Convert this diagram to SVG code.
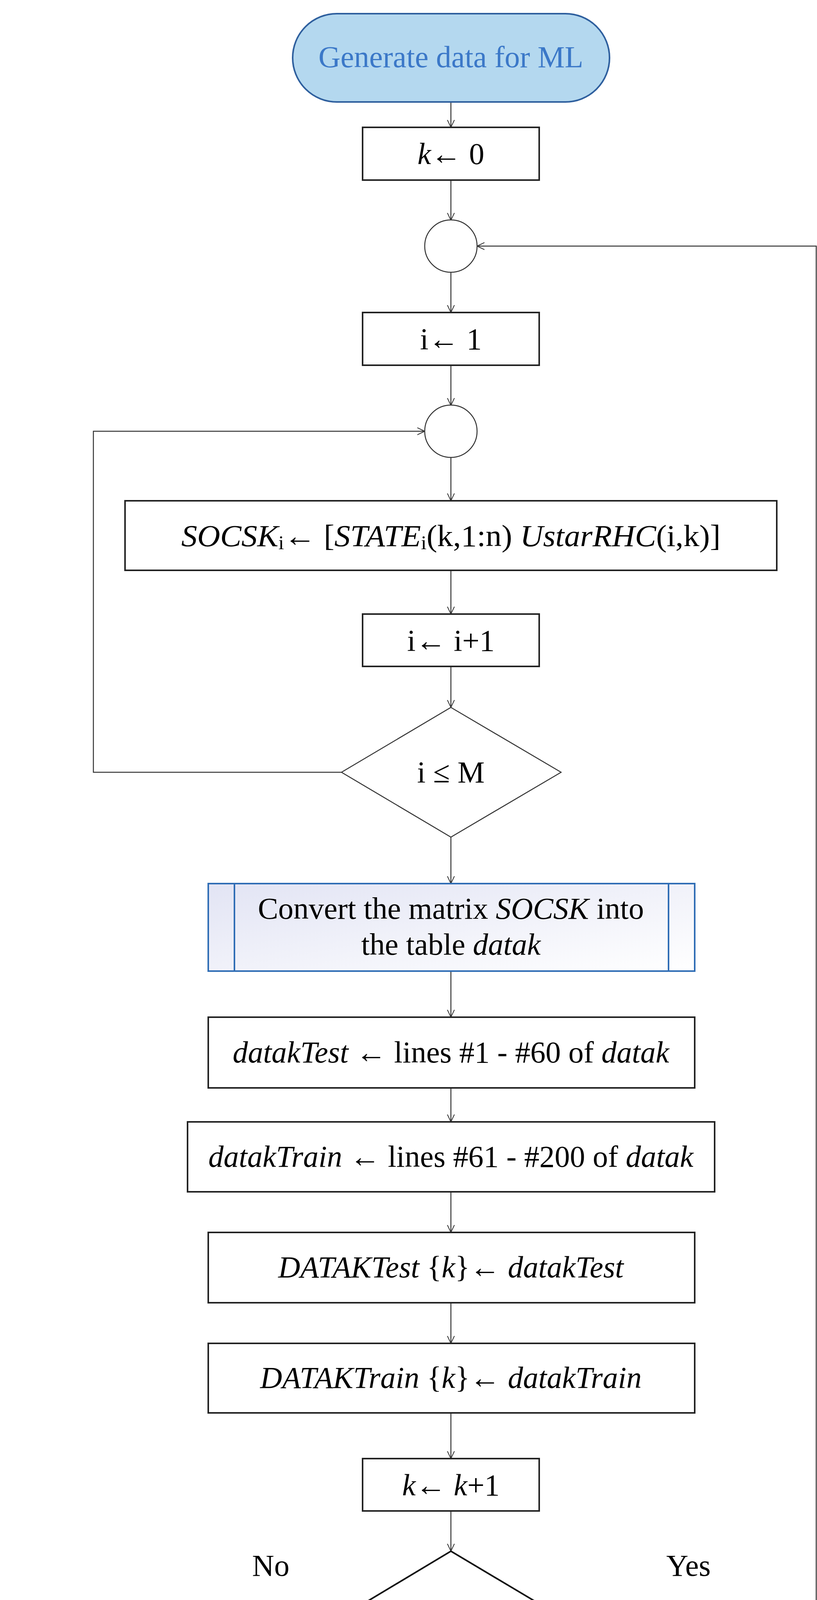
<svg xmlns="http://www.w3.org/2000/svg" width="2091" height="4966" viewBox="0 0 2091 4966">
<style>
text{font-family:"Liberation Serif","Times New Roman",serif;font-size:78px;fill:#000;text-anchor:middle}
.term{fill:#b4d8ef;stroke:#2e5f9e;stroke-width:4}
.tt{fill:#3b78c8}
.box{fill:#fff;stroke:#222;stroke-width:4}
.pre{stroke:#2f6db5;stroke-width:4}
.con{fill:none;stroke:#333;stroke-width:2.5}
.it{font-style:italic}
.sub{font-size:50px}
</style>
<defs>
<marker id="ah" viewBox="0 0 20 20" refX="19" refY="10" markerWidth="20" markerHeight="20" markerUnits="userSpaceOnUse" orient="auto">
<path d="M0,1 L19,10 L0,19" fill="none" stroke="#333" stroke-width="2"/>
</marker>
<linearGradient id="g" x1="0" y1="0" x2="1" y2="1">
<stop offset="0" stop-color="#e2e4f4"/><stop offset="1" stop-color="#ffffff"/>
</linearGradient>
</defs>
<rect width="2091" height="4966" fill="#fff"/>
<g id="connectors" class="con" marker-end="url(#ah)">
<path d="M1154,261 V326"/>
<path d="M1154,461 V564"/>
<path d="M1154,696 V800"/>
<path d="M1154,935 V1038"/>
<path d="M1154,1171 V1282"/>
<path d="M1154,1460 V1572"/>
<path d="M1154,1706 V1811"/>
<path d="M874,1977 H239 V1104 H1087"/>
<path d="M1154,2143 V2262"/>
<path d="M1154,2486 V2604"/>
<path d="M1154,2785 V2872"/>
<path d="M1154,3051 V3155"/>
<path d="M1154,3335 V3439"/>
<path d="M1154,3617 V3734"/>
<path d="M1154,3868 V3971"/>
<path d="M1436,4139 H2089 V630 H1221"/>
<path d="M874,4139 H756 V4393"/>
<path d="M776,4572 V4706"/>
</g>
<g id="start"><rect class="term" x="749" y="35" width="811" height="226" rx="113"/><text class="tt" x="1154" y="172">Generate data for ML</text></g>
<g id="k0"><rect class="box" x="928" y="326" width="452" height="135"/><text x="1154" y="420"><tspan class="it">k</tspan>← 0</text></g>
<g id="c1"><circle cx="1154" cy="630" r="67" fill="#fff" stroke="#333" stroke-width="2.5"/></g>
<g id="i1"><rect class="box" x="928" y="800" width="452" height="135"/><text x="1154" y="894">i← 1</text></g>
<g id="c2"><circle cx="1154" cy="1104" r="67" fill="#fff" stroke="#333" stroke-width="2.5"/></g>
<g id="socsk"><rect class="box" x="320" y="1282" width="1668" height="178"/><text x="1154" y="1398" textLength="1380" lengthAdjust="spacingAndGlyphs"><tspan class="it">SOCSK</tspan><tspan class="sub" dy="8">i</tspan><tspan dy="-8">← [</tspan><tspan class="it">STATE</tspan><tspan class="sub" dy="8">i</tspan><tspan dy="-8">(k,1:n)  </tspan><tspan class="it">UstarRHC</tspan>(i,k)]</text></g>
<g id="inc"><rect class="box" x="928" y="1572" width="452" height="134"/><text x="1154" y="1666">i← i+1</text></g>
<g id="d1"><path d="M1154,1811 L1436,1977 L1154,2143 L874,1977 Z" fill="#fff" stroke="#333" stroke-width="2.5"/><text x="1154" y="2003">i ≤ M</text></g>
<g id="convert"><rect x="533" y="2262" width="1245" height="224" fill="url(#g)" class="pre"/><line class="pre" x1="600" y1="2262" x2="600" y2="2486"/><line class="pre" x1="1711" y1="2262" x2="1711" y2="2486"/><text x="1154" y="2352">Convert the matrix <tspan class="it">SOCSK</tspan> into</text><text x="1154" y="2444">the table <tspan class="it">datak</tspan></text></g>
<g id="test"><rect class="box" x="533" y="2604" width="1245" height="181"/><text x="1154" y="2720"><tspan class="it">datakTest</tspan> ← lines #1 - #60 of <tspan class="it">datak</tspan></text></g>
<g id="train"><rect class="box" x="480" y="2872" width="1349" height="179"/><text x="1154" y="2987"><tspan class="it">datakTrain</tspan> ← lines #61 - #200 of <tspan class="it">datak</tspan></text></g>
<g id="DT"><rect class="box" x="533" y="3155" width="1245" height="180"/><text x="1154" y="3270"><tspan class="it">DATAKTest</tspan> {<tspan class="it">k</tspan>}← <tspan class="it">datakTest</tspan></text></g>
<g id="DTr"><rect class="box" x="533" y="3439" width="1245" height="178"/><text x="1154" y="3553"><tspan class="it">DATAKTrain</tspan> {<tspan class="it">k</tspan>}← <tspan class="it">datakTrain</tspan></text></g>
<g id="kinc"><rect class="box" x="928" y="3734" width="452" height="134"/><text x="1154" y="3828"><tspan class="it">k</tspan>← <tspan class="it">k</tspan>+1</text></g>
<g id="d2"><path d="M1154,3971 L1436,4139 L1154,4308 L874,4139 Z" fill="#fff" stroke="#111" stroke-width="4"/><text x="1154" y="4165"><tspan class="it">k</tspan> ≤ H-1</text></g>
<text x="693" y="4034">No</text>
<text x="1762" y="4034">Yes</text>
<g id="save"><rect class="box" x="36" y="4393" width="1478" height="179"/><text x="776" y="4508" textLength="1300" lengthAdjust="spacingAndGlyphs">Save  <tspan class="it">DATAKTrain, DATAKTest</tspan> in a file</text></g>
<g id="stop"><rect class="term" x="495" y="4706" width="561" height="224" rx="112"/><text class="tt" x="776" y="4844">STOP</text></g>
</svg>
